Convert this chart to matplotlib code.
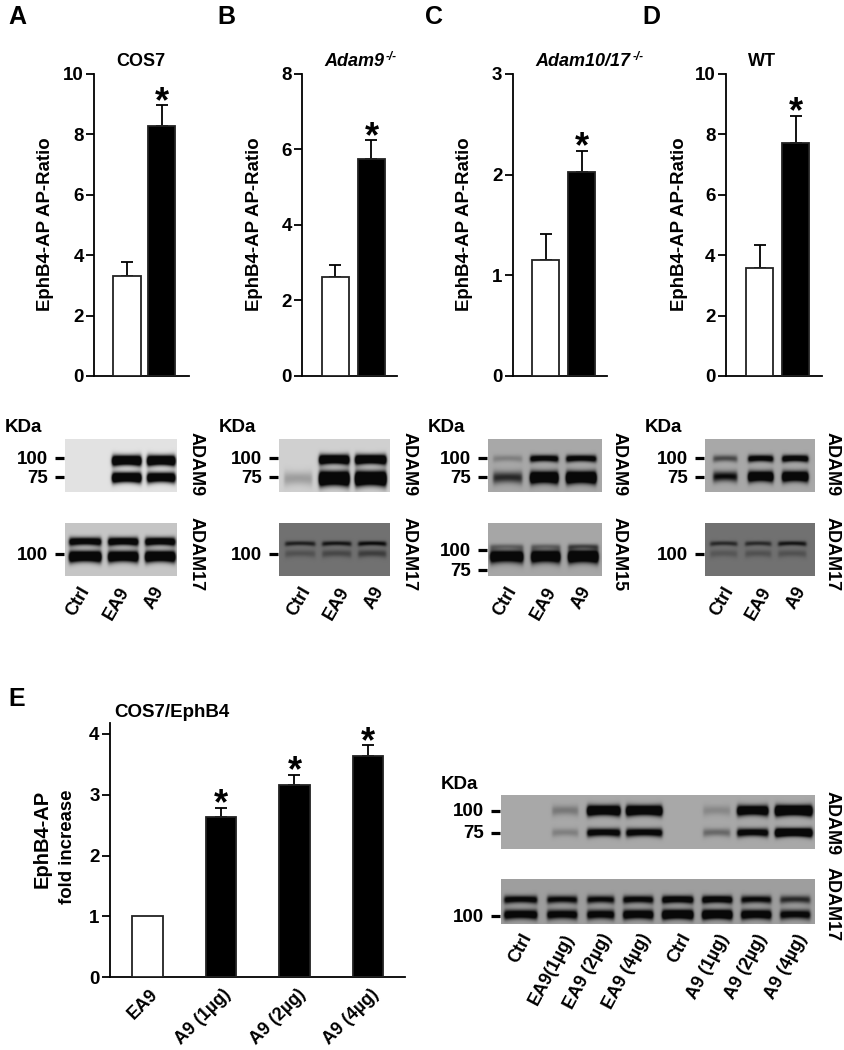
import numpy as np
import matplotlib
matplotlib.use('Agg')
import matplotlib.pyplot as plt

W, H = 845, 1050
plt.rcParams['font.family'] = ['Liberation Sans', 'DejaVu Sans']
plt.rcParams['font.weight'] = 'bold'

# bar charts: control, treated
a_vals = [3.31, 8.28]
a_tops = [3.77, 8.97]
b_vals = [2.62, 5.76]
b_tops = [2.94, 6.25]
c_vals = [1.15, 2.03]
c_tops = [1.41, 2.24]
d_vals = [3.58, 7.70]
d_tops = [4.35, 8.62]
e_vals = [1.0, 2.64, 3.16, 3.64]
e_tops = [1.0, 2.79, 3.33, 3.82]
e_labels = ['EA9', 'A9 (1µg)', 'A9 (2µg)', 'A9 (4µg)']

lane_labels = ['Ctrl', 'EA9', 'A9']
e_lane_labels = ['Ctrl', 'EA9(1µg)', 'EA9 (2µg)', 'EA9 (4µg)',
                 'Ctrl', 'A9 (1µg)', 'A9 (2µg)', 'A9 (4µg)']

# blot band strength per lane (>1 saturates to black), upper band then lower band
a9_a = ([0, 1.9, 1.9], [0, 1.9, 1.7])
a17_a = ([1.4, 1.5, 1.5], [1.9, 1.8, 1.9])
a9_b = ([0, 1.8, 1.8], [0.25, 2.2, 2.2])
a17_b = ([0.8, 0.9, 1.0], [0.3, 0.4, 0.5])
a9_c = ([0.25, 1.3, 1.3], [0.8, 2.0, 2.1])
a15_c = ([0.35, 0.35, 0.55], [1.7, 1.8, 2.0])
a9_d = ([0.6, 1.3, 1.4], [1.0, 1.8, 1.8])
a17_d = ([0.7, 0.7, 0.9], [0.25, 0.3, 0.3])
a9_e = ([0.3, 1.9, 1.9, 0.2, 1.7, 2.2], [0.25, 1.3, 1.3, 0.4, 1.3, 2.0])
a17_e = ([1.2, 1.1, 1.1, 1.2, 1.4, 1.4, 1.1, 0.8], [1.4, 1.3, 1.3, 1.5, 1.8, 1.8, 1.5, 1.2])


def px_axes(fig, x0, y0, x1, y1):
    return fig.add_axes([x0 / W, 1 - y1 / H, (x1 - x0) / W, (y1 - y0) / H])


def px_text(fig, x, y, s, **kw):
    kw.setdefault('fontsize', 13)
    kw.setdefault('va', 'baseline')
    kw.setdefault('rotation_mode', 'anchor')
    return fig.text(x / W, 1 - y / H, s, **kw)


def style_axes(ax, ticks):
    for s in ['top', 'right']:
        ax.spines[s].set_visible(False)
    for s in ['left', 'bottom']:
        ax.spines[s].set_linewidth(1.3)
    ax.set_xticks([])
    ax.set_yticks(ticks)
    ax.tick_params(axis='y', length=5.5, width=1.3, pad=2, labelsize=13.5)


def draw_bars(ax, vals, tops, width, star=26):
    for x, (v, t) in enumerate(zip(vals, tops)):
        ax.bar(x, v, width, color='white' if x == 0 else 'black',
               edgecolor='#222222', linewidth=1.3, zorder=3)
        if t > v:
            ax.errorbar(x, v, yerr=[[0], [t - v]], color='black', lw=1.3,
                        capsize=4.3, capthick=1.3, zorder=2)
        if x > 0:
            ax.annotate('*', (x, t), xytext=(0, -5), textcoords='offset points',
                        ha='center', va='baseline', fontsize=star)


def bar_panel(fig, spine, end, ticks, vals, tops, centers, width):
    ax = px_axes(fig, spine, 74, end, 376)
    step = centers[1] - centers[0]
    ax.set_xlim((spine - centers[0]) / step, (end - centers[0]) / step)
    ax.set_ylim(0, ticks[-1])
    style_axes(ax, ticks)
    draw_bars(ax, vals, tops, width / step)
    return ax


def blot(fig, x0, x1, y0, y1, bg, rows, lanes, strengths, thick, bow=1.2):
    ax = px_axes(fig, x0, y0, x1, y1)
    xx, yy = np.meshgrid(np.arange(x0, x1, 0.5), np.arange(y0, y1, 0.5))
    dark = np.zeros_like(xx)
    for row, levels, h in zip(rows, strengths, thick):
        for (a, b), lev in zip(lanes, levels):
            t = (xx - (a + b) / 2) / ((b - a) / 2)
            # bands run thicker and droop a little at the lane ends
            hh = h * (1 + 0.18 * t ** 2)
            yc = row + bow * t ** 2 * 0.6
            px = 0.5 * (np.tanh((xx - a) / 1.6) - np.tanh((xx - b) / 1.6))
            dark += lev * px * np.exp(-((yy - yc) / hh) ** 2)
    img = bg * (1 - np.clip(dark, 0, 1)) + 8
    ax.imshow(img, cmap='gray', vmin=0, vmax=255, aspect='auto',
              extent=(x0, x1, y1, y0), interpolation='bilinear')
    ax.set_xlim(x0, x1)
    ax.set_ylim(y1, y0)
    ax.axis('off')
    return ax


def marker(ax, x0, y, label, length=10):
    ax.plot([x0 - length, x0 - 1], [y, y], color='black', lw=2.3,
            clip_on=False, solid_capstyle='butt')
    ax.text(x0 - length - 7, y + 1, label, ha='right', va='center', fontsize=13.5, clip_on=False)


def main():
    fig = plt.figure(figsize=(W / 100, H / 100), dpi=100)

    for letter, x, y in [('A', 8, 24), ('B', 217, 24), ('C', 425, 24), ('D', 642, 24), ('E', 8, 706)]:
        px_text(fig, x, y, letter, fontsize=18)

    bar_panel(fig, 94.5, 189, [0, 2, 4, 6, 8, 10], a_vals, a_tops, [127, 161.5], 27)
    bar_panel(fig, 302.5, 397, [0, 2, 4, 6, 8], b_vals, b_tops, [335.5, 371.5], 27)
    bar_panel(fig, 512.7, 607, [0, 1, 2, 3], c_vals, c_tops, [545.5, 581.5], 27)
    bar_panel(fig, 726, 821.7, [0, 2, 4, 6, 8, 10], d_vals, d_tops, [760, 796], 27)

    for x in [46, 255, 465, 680]:
        px_text(fig, x, 224, 'EphB4-AP AP-Ratio', rotation=90, ha='center', va='center',
                fontsize=13.4)

    px_text(fig, 141, 66, 'COS7', ha='center')
    px_text(fig, 762, 66, 'WT', ha='center')
    px_text(fig, 324, 66, 'Adam9', style='italic')
    px_text(fig, 386, 60, '-/-', style='italic', fontsize=8.5)
    px_text(fig, 535, 66, 'Adam10/17', style='italic')
    px_text(fig, 633, 60, '-/-', style='italic', fontsize=8.5)

    # western blots, one column per panel
    ax = blot(fig, 65, 177, 439, 492, 218, [460, 477], [(70, 100), (112, 141), (147, 175)], a9_a, [4.6, 4.6])
    marker(ax, 65, 458, '100'); marker(ax, 65, 477, '75')
    ax = blot(fig, 65, 177, 523, 576, 190, [541, 556], [(69, 101), (108, 138), (145, 175)], a17_a, [3.8, 5.0])
    marker(ax, 65, 554, '100')
    ax = blot(fig, 279, 390, 439, 492, 200, [459, 478], [(284, 312), (319, 349), (355, 386)], a9_b, [4.4, 6.4])
    marker(ax, 279, 458, '100'); marker(ax, 279, 477, '75')
    ax = blot(fig, 279, 390, 523, 576, 105, [543, 553], [(285, 315), (322, 351), (358, 386)], a17_b, [2.2, 3.4])
    marker(ax, 279, 554, '100')
    ax = blot(fig, 488, 602, 439, 492, 160, [458, 477], [(493, 522), (530, 558), (566, 596)], a9_c, [3.2, 5.4])
    marker(ax, 488, 458, '100'); marker(ax, 488, 477, '75')
    ax = blot(fig, 488, 602, 523, 576, 158, [546, 556], [(490, 523), (531, 560), (568, 598)], a15_c, [2.4, 5.6])
    marker(ax, 488, 550, '100'); marker(ax, 488, 570, '75')
    ax = blot(fig, 705, 815, 439, 492, 160, [458, 476], [(713, 737), (748, 773), (782, 808)], a9_d, [3.2, 4.8])
    marker(ax, 705, 458, '100'); marker(ax, 705, 477, '75')
    ax = blot(fig, 705, 815, 523, 576, 105, [543, 553], [(710, 737), (745, 771), (778, 806)], a17_d, [2.2, 3.4])
    marker(ax, 705, 554, '100')

    for kda_x in [5, 219, 428, 645]:
        px_text(fig, kda_x, 432, 'KDa', fontsize=13.5)

    for x, pair in [(196, ('ADAM9', 'ADAM17')), (409, ('ADAM9', 'ADAM17')),
                    (619, ('ADAM9', 'ADAM15')), (832, ('ADAM9', 'ADAM17'))]:
        px_text(fig, x, 464, pair[0], rotation=-90, ha='center', va='center')
        px_text(fig, x, 554, pair[1], rotation=-90, ha='center', va='center')

    for ends in [[86, 125, 160], [307, 345, 380], [513, 552, 587], [730, 767, 802]]:
        for x, s in zip(ends, lane_labels):
            px_text(fig, x, 588, s, rotation=60, ha='right', va='center')

    # panel E bars
    ax = px_axes(fig, 110, 723, 405, 977)
    ax.set_xlim((110 - 147.5) / 73.5, (405 - 147.5) / 73.5)
    ax.set_ylim(0, 254 / 60.75)
    style_axes(ax, [0, 1, 2, 3, 4])
    draw_bars(ax, e_vals, e_tops, 0.41)
    px_text(fig, 42, 839, 'EphB4-AP', rotation=90, ha='center', va='center', fontsize=14.5)
    px_text(fig, 68, 847, 'fold increase', rotation=90, ha='center', va='center', fontsize=13.4)
    px_text(fig, 114, 717, 'COS7/EphB4', fontsize=13.5)
    for x, s in zip([155, 228, 303, 376], e_labels):
        px_text(fig, x, 992, s, rotation=45, ha='right', va='center')

    # panel E blots
    ax = blot(fig, 501, 815, 795, 849, 160, [810, 832],
              [(552, 578), (587, 620), (626, 662), (703, 730), (737, 768), (775, 812)],
              a9_e, [4.6, 3.8])
    marker(ax, 501, 811, '100'); marker(ax, 501, 833, '75')
    ax = blot(fig, 501, 815, 879, 924, 150, [899, 914],
              [(504, 537), (547, 577), (587, 614), (623, 653), (662, 693), (702, 732), (741, 771), (780, 810)],
              a17_e, [3.6, 4.4])
    marker(ax, 501, 916, '100')
    px_text(fig, 441, 789, 'KDa', fontsize=13.5)
    px_text(fig, 832, 823, 'ADAM9', rotation=-90, ha='center', va='center')
    px_text(fig, 832, 904, 'ADAM17', rotation=-90, ha='center', va='center')
    for x, s in zip([528, 570, 608, 647, 687, 725, 763, 803], e_lane_labels):
        px_text(fig, x, 935, s, rotation=62, ha='right', va='center', fontsize=13)

    fig.savefig('out.png', dpi=100)


if __name__ == '__main__':
    main()
